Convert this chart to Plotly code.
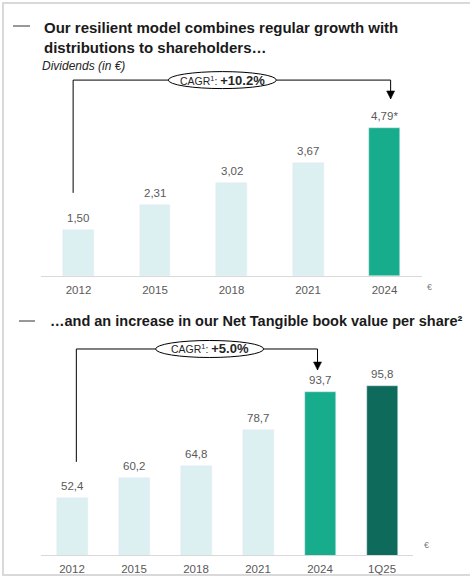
import plotly.graph_objects as go

# ---- data ----
div_years = ["2012", "2015", "2018", "2021", "2024"]
div_values = [1.50, 2.31, 3.02, 3.67, 4.79]
div_labels = ["1,50", "2,31", "3,02", "3,67", "4,79*"]
div_colors = ["#DCEFF1", "#DCEFF1", "#DCEFF1", "#DCEFF1", "#17AC8C"]

tbv_years = ["2012", "2015", "2018", "2021", "2024", "1Q25"]
tbv_values = [52.4, 60.2, 64.8, 78.7, 93.7, 95.8]
tbv_labels = ["52,4", "60,2", "64,8", "78,7", "93,7", "95,8"]
tbv_colors = ["#DCEFF1", "#DCEFF1", "#DCEFF1", "#DCEFF1", "#17AC8C", "#0E6A5A"]

W, H = 470, 577
def px(x): return x / W
def py(y): return 1 - y / H

GRAY = "#595959"
FONT = "Liberation Sans, Arial, sans-serif"

fig = go.Figure()
fig.add_trace(go.Bar(x=list(range(len(div_years))), y=div_values, marker_color=div_colors,
                     width=0.405, xaxis="x", yaxis="y", hoverinfo="skip", showlegend=False))
fig.add_trace(go.Bar(x=list(range(len(tbv_years))), y=tbv_values, marker_color=tbv_colors,
                     width=0.5, xaxis="x2", yaxis="y2", hoverinfo="skip", showlegend=False))

annotations = []
for i, (v, t) in enumerate(zip(div_values, div_labels)):
    annotations.append(dict(x=i, y=v, xref="x", yref="y", text=t, showarrow=False,
                            yanchor="bottom", yshift=4, font=dict(size=11.5, color=GRAY, family=FONT)))
for i, (v, t) in enumerate(zip(tbv_values, tbv_labels)):
    annotations.append(dict(x=i, y=v, xref="x2", yref="y2", text=t, showarrow=False,
                            yanchor="bottom", yshift=4, font=dict(size=11.5, color=GRAY, family=FONT)))

# titles
annotations += [
    dict(x=px(42), y=py(27), xref="paper", yref="paper", xanchor="left", yanchor="middle",
         text="<b>Our resilient model combines regular growth with</b>",
         showarrow=False, font=dict(size=15, color="#1A1A1A", family=FONT)),
    dict(x=px(42), y=py(48), xref="paper", yref="paper", xanchor="left", yanchor="middle",
         text="<b>distributions to shareholders…</b>",
         showarrow=False, font=dict(size=15, color="#1A1A1A", family=FONT)),
    dict(x=px(40), y=py(66), xref="paper", yref="paper", xanchor="left", yanchor="middle",
         text="<i>Dividends (in €)</i>", showarrow=False, font=dict(size=12, color="#262626", family=FONT)),
    dict(x=px(48), y=py(321), xref="paper", yref="paper", xanchor="left", yanchor="middle",
         text="<b>…and an increase in our Net Tangible book value per share²</b>",
         showarrow=False, font=dict(size=14.5, color="#1A1A1A", family=FONT)),
    dict(x=px(434), y=py(287), xref="paper", yref="paper", text="€", showarrow=False,
         font=dict(size=9, color="#808080", family=FONT)),
    dict(x=px(431), y=py(552), xref="paper", yref="paper", text="€", showarrow=False,
         font=dict(size=9, color="#808080", family=FONT)),
]

# CAGR brackets (data coordinates)
br1 = dict(x_left=-0.07, y_start=2.69, y_top=6.34, x_right=4.08, y_tip=5.73, ex=1.88)
br2 = dict(x_left=0.07, y_start=66.3, y_top=110.3, x_right=3.96, y_tip=102.1, ex=2.22)

shapes = [
    dict(type="rect", xref="paper", yref="paper", x0=px(3), x1=px(480), y0=py(575), y1=py(3),
         line=dict(color="#D9D9D9", width=2), layer="below"),
    dict(type="line", xref="paper", yref="paper", x0=px(13), x1=px(30), y0=py(26), y1=py(26),
         line=dict(color="#333333", width=1)),
    dict(type="line", xref="paper", yref="paper", x0=px(19), x1=px(35), y0=py(321), y1=py(321),
         line=dict(color="#333333", width=1)),
]
for b, xr, yr, txt in [(br1, "x", "y", "+10.2%"), (br2, "x2", "y2", "+5.0%")]:
    shapes.append(dict(type="path", xref=xr, yref=yr,
                       path=f"M {b['x_left']},{b['y_start']} L {b['x_left']},{b['y_top']} L {b['x_right']},{b['y_top']} L {b['x_right']},{b['y_tip']}",
                       line=dict(color="black", width=1)))
    # arrowhead
    shapes.append(dict(type="path", xref=xr, yref=yr, xsizemode="pixel", ysizemode="pixel",
                       xanchor=b["x_right"], yanchor=b["y_tip"],
                       path="M 0,0 L -4,8 L 4,8 Z", fillcolor="black", line=dict(color="black", width=0.5)))
    shapes.append(dict(type="circle", xref=xr, yref=yr, xsizemode="pixel", ysizemode="pixel",
                       xanchor=b["ex"], yanchor=b["y_top"], x0=-54, x1=54, y0=-8.5, y1=8.5,
                       fillcolor="white", line=dict(color="black", width=1)))
    annotations.append(dict(x=b["ex"], y=b["y_top"], xref=xr, yref=yr, showarrow=False,
                            text=f"CAGR<sup>1</sup>: <b><span style='font-size:13px'>{txt}</span></b>",
                            font=dict(size=10.5, color="#262626", family=FONT)))

axis_common = dict(showgrid=False, zeroline=False, ticks="", tickfont=dict(size=11.5, color=GRAY, family=FONT),
                   showline=True, linecolor="#D9D9D9", linewidth=1, fixedrange=True)
fig.update_layout(
    width=W, height=H, margin=dict(l=0, r=0, t=0, b=0),
    paper_bgcolor="white", plot_bgcolor="white",
    font=dict(family=FONT),
    xaxis=dict(domain=[px(41), px(422)], range=[-0.49, 4.49], anchor="y",
               tickmode="array", tickvals=list(range(len(div_years))), ticktext=div_years,
               ticklabelstandoff=3, **axis_common),
    yaxis=dict(domain=[py(276), py(60)], range=[0, 6.99], visible=False, anchor="x"),
    xaxis2=dict(domain=[px(41), px(413)], range=[-0.5, 5.5], anchor="y2",
                tickmode="array", tickvals=list(range(len(tbv_years))), ticktext=tbv_years,
                ticklabelstandoff=3, **axis_common),
    yaxis2=dict(domain=[py(555), py(330)], range=[30, 117.7], visible=False, anchor="x2"),
    shapes=shapes, annotations=annotations, bargap=0,
)
fig.write_html("out.html")
